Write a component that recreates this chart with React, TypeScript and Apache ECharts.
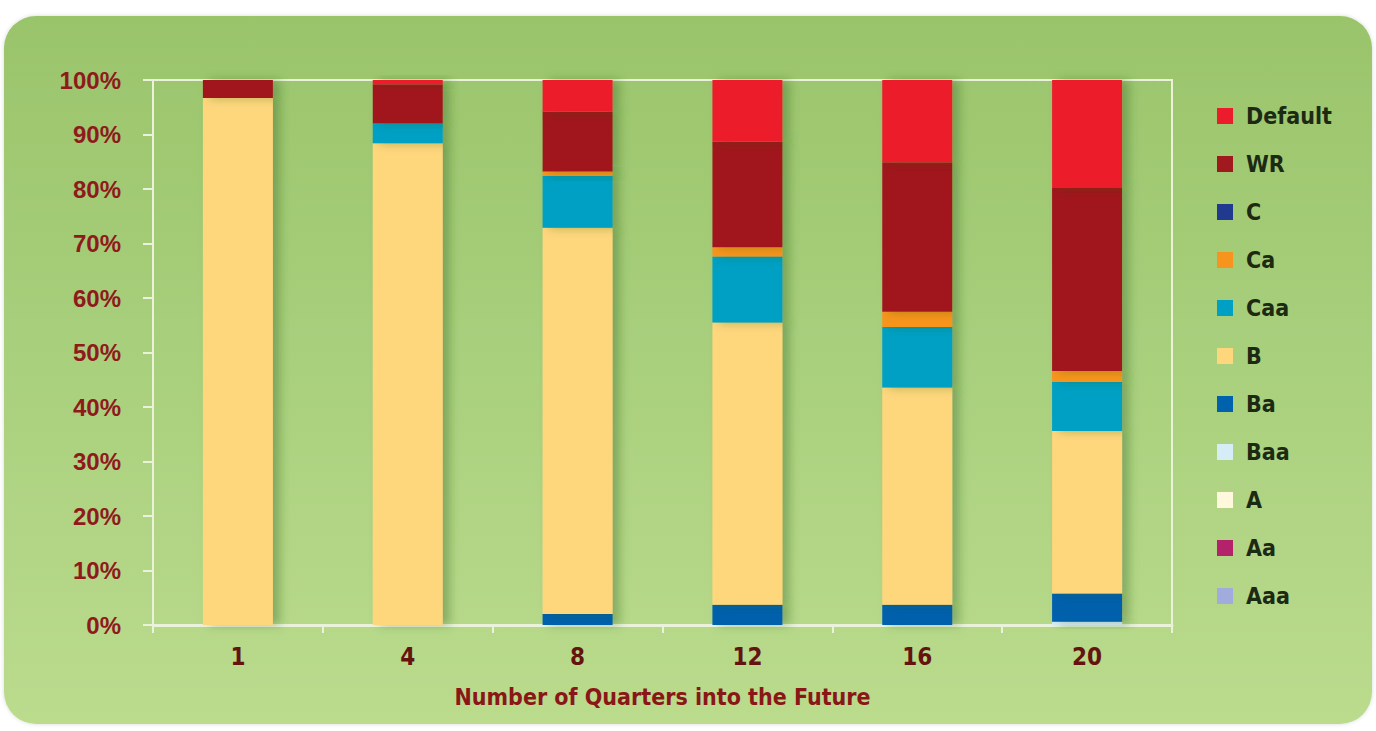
import React, { useEffect, useRef } from "react";
import * as echarts from "echarts";

const categories = ["1", "4", "8", "12", "16", "20"];
const seriesNames = ["Default", "WR", "C", "Ca", "Caa", "B", "Ba", "Baa", "A", "Aa", "Aaa"];
const seriesColors = ["#EC1C2C", "#A0191F", "#1F3A8F", "#F7941D", "#00A0C4", "#FED67C", "#0061AC", "#D6ECF6", "#FFF8DC", "#B3226A", "#A2ACDC"];

const defaultVals = [0, 0.8, 5.8, 11.3, 15.1, 19.8];
const wrVals = [3.3, 7.2, 11.0, 19.4, 27.4, 33.6];
const cVals = [0, 0, 0, 0, 0, 0];
const caVals = [0, 0, 0.8, 1.7, 2.8, 2.0];
const caaVals = [0, 3.6, 9.5, 12.1, 11.1, 9.0];
const bVals = [96.7, 88.4, 70.9, 51.8, 39.9, 29.8];
const baVals = [0, 0, 2.0, 3.7, 3.7, 5.2];
const baaVals = [0, 0, 0, 0, 0, 0.6];
const aVals = [0, 0, 0, 0, 0, 0];
const aaVals = [0, 0, 0, 0, 0, 0];
const aaaVals = [0, 0, 0, 0, 0, 0];

const yTicks = [0, 10, 20, 30, 40, 50, 60, 70, 80, 90, 100];
const xTitle = "Number of Quarters into the Future";

const valuesByName: Record<string, number[]> = {
  Default: defaultVals,
  WR: wrVals,
  C: cVals,
  Ca: caVals,
  Caa: caaVals,
  B: bVals,
  Ba: baVals,
  Baa: baaVals,
  A: aVals,
  Aa: aaVals,
  Aaa: aaaVals,
};

const NARROW = '"Liberation Sans Narrow", "DejaVu Sans Condensed", "Liberation Sans", sans-serif';
const WIDE = '"Liberation Sans", Arial, sans-serif';

export default function App() {
  const ref = useRef<HTMLDivElement>(null);
  useEffect(() => {
    if (!ref.current) return;
    const chart = echarts.init(ref.current, undefined, { renderer: "svg" });
    const stackOrder = [...seriesNames].reverse();
    const series = stackOrder.map((name) => {
      const idx = seriesNames.indexOf(name);
      return {
        name,
        type: "bar",
        stack: "total",
        barWidth: 70,
        data: valuesByName[name],
        itemStyle: {
          color: seriesColors[idx],
          shadowColor: "rgba(40,90,20,0.35)",
          shadowBlur: 10,
          shadowOffsetX: 7,
          shadowOffsetY: 0,
        },
      };
    });
    chart.setOption({
      animation: false,
      graphic: [
        {
          type: "rect",
          z: -10,
          silent: true,
          shape: { x: 4, y: 16, width: 1368, height: 708, r: 32 },
          style: {
            fill: new echarts.graphic.LinearGradient(0, 0, 0, 1, [
              { offset: 0, color: "#9AC46B" },
              { offset: 0.5, color: "#A9D07D" },
              { offset: 1, color: "#BBDB8D" },
            ]),
            shadowColor: "rgba(0,0,0,0.15)",
            shadowBlur: 4,
          },
        },
      ],
      grid: {
        left: 153,
        right: 204,
        top: 80,
        bottom: 106,
        show: true,
        borderColor: "#EAF3DA",
        borderWidth: 2,
        backgroundColor: "transparent",
      },
      legend: {
        orient: "vertical",
        left: 1212,
        top: 97,
        data: seriesNames,
        icon: "rect",
        itemWidth: 16,
        itemHeight: 16,
        itemGap: 20,
        selectedMode: false,
        textStyle: {
          color: "#1C2A14",
          fontSize: 23,
          fontWeight: "bold",
          fontFamily: NARROW,
          lineHeight: 28,
          padding: [0, 0, 0, 8],
        },
      },
      xAxis: {
        type: "category",
        data: categories,
        name: xTitle,
        nameLocation: "middle",
        nameGap: 60,
        nameTextStyle: {
          color: "#8A1717",
          fontSize: 23,
          fontWeight: "bold",
          fontFamily: NARROW,
        },
        axisLine: { show: true, lineStyle: { color: "#EAF3DA", width: 3 } },
        axisTick: { show: true, length: 8, interval: 0, lineStyle: { color: "#EAF3DA", width: 2 } },
        axisLabel: {
          color: "#64130E",
          fontSize: 24,
          fontWeight: "bold",
          fontFamily: NARROW,
          margin: 20,
        },
      },
      yAxis: {
        type: "value",
        min: yTicks[0],
        max: yTicks[yTicks.length - 1],
        interval: 10,
        axisLine: { show: true, lineStyle: { color: "#EAF3DA", width: 2 } },
        axisTick: { show: true, length: 10, lineStyle: { color: "#EAF3DA", width: 2 } },
        splitLine: { show: false },
        axisLabel: {
          color: "#8E1A1C",
          fontSize: 24,
          fontWeight: "bold",
          fontFamily: WIDE,
          margin: 32,
          formatter: "{value}%",
        },
      },
      series,
    });
    return () => chart.dispose();
  }, []);
  return (
    <div
      ref={ref}
      style={{ position: "fixed", left: 0, top: 0, width: 1376, height: 731, background: "#FFFFFF" }}
    />
  );
}
